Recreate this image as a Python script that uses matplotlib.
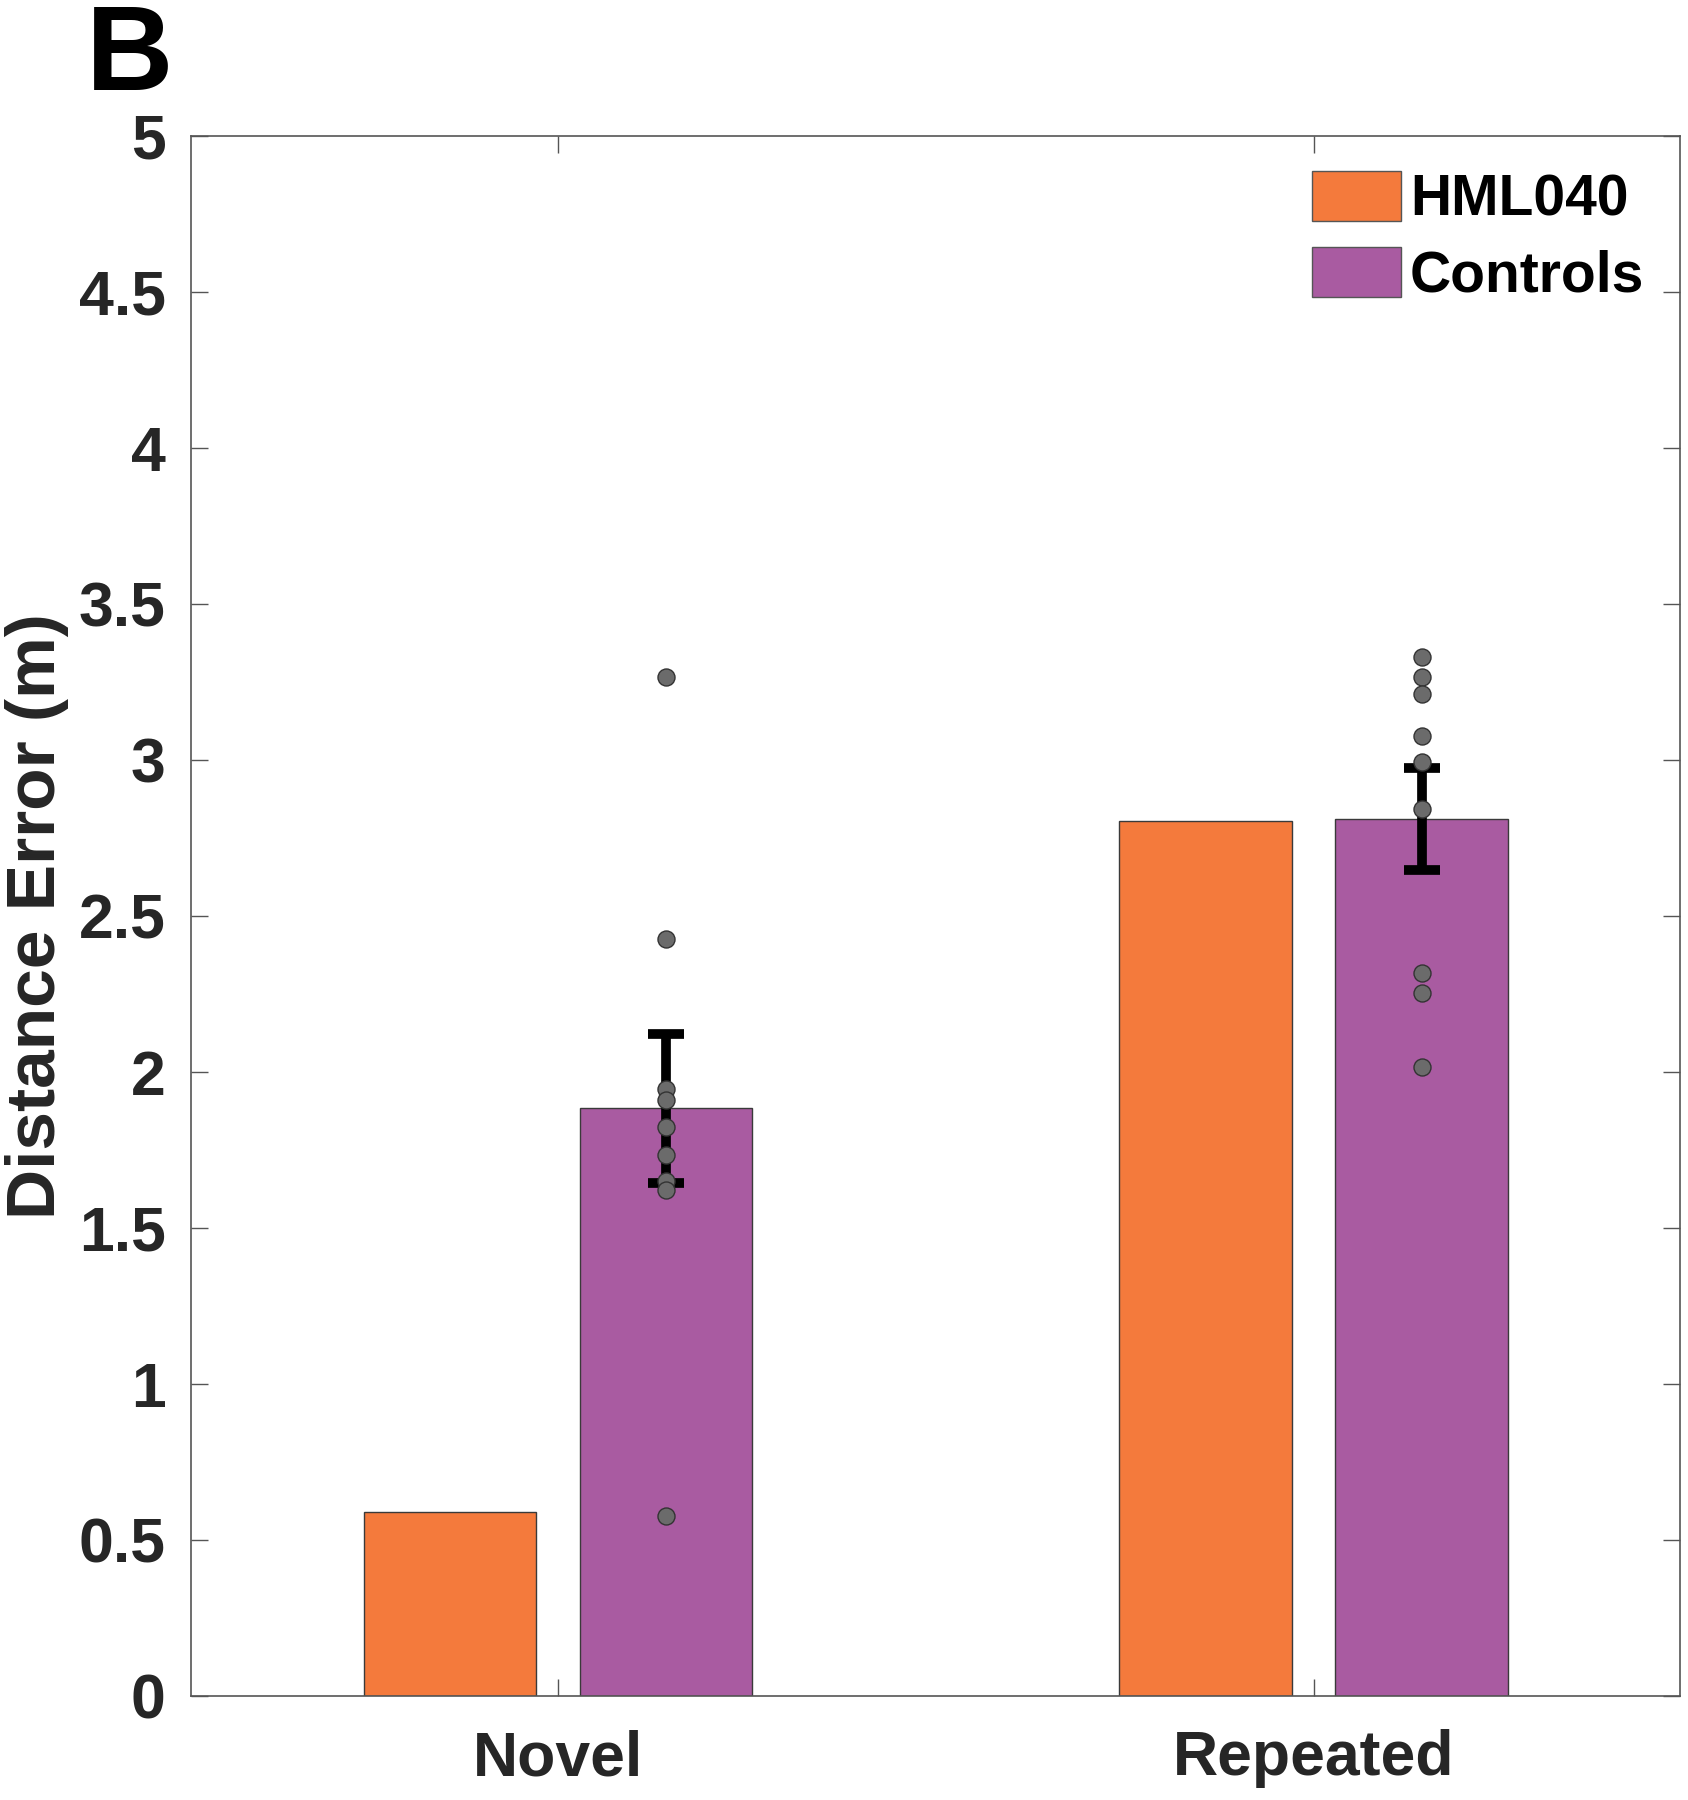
import numpy as np
import matplotlib
matplotlib.use("Agg")
import matplotlib.pyplot as plt

plt.rcParams['font.family'] = ['Liberation Sans', 'DejaVu Sans']
plt.rcParams['font.weight'] = 'bold'

categories = ["Novel", "Repeated"]
hml040 = [0.59, 2.805]
controls_mean = [1.883, 2.811]
controls_sem = [0.238, 0.163]
novel_dots = [3.265, 2.425, 1.944, 1.910, 1.823, 1.733, 1.650, 1.621, 0.577]
repeated_dots = [3.330, 3.266, 3.210, 3.076, 2.994, 2.841, 2.316, 2.254, 2.016]
yticks = [0, 0.5, 1, 1.5, 2, 2.5, 3, 3.5, 4, 4.5, 5]
ytick_labels = ["0", "0.5", "1", "1.5", "2", "2.5", "3", "3.5", "4", "4.5", "5"]

orange = "#F47A3C"
purple = "#A95BA1"

fig = plt.figure(figsize=(16.88, 18), dpi=100)
ax = fig.add_axes([0.1129, 0.0578, 0.8824, 0.8669])

x = np.arange(1, len(categories) + 1)
w = 0.228
off = 0.143
ax.bar(x - off, hml040, w, color=orange, edgecolor="#3a3a3a", linewidth=1.0, label="HML040", zorder=2)
ax.bar(x + off, controls_mean, w, color=purple, edgecolor="#3a3a3a", linewidth=1.0, label="Controls", zorder=2)
ax.errorbar(x + off, controls_mean, yerr=controls_sem, fmt="none", ecolor="black",
            elinewidth=7, capsize=13, capthick=7, zorder=3)

for xi, dots in zip(x + off, [novel_dots, repeated_dots]):
    ax.scatter([xi] * len(dots), dots, s=150, color="#6b6b6b", edgecolor="#333333",
               linewidth=1.0, zorder=4)

ax.set_xlim(0.514, 2.485)
ax.set_ylim(0, 5)
ax.set_xticks(x)
ax.set_xticklabels(categories)
ax.set_yticks(yticks)
ax.set_yticklabels(ytick_labels)
ax.tick_params(axis="both", direction="in", length=12, width=1.0, color="#555555",
               labelsize=45, labelcolor="#262626", top=True, right=True)
ax.tick_params(axis="y", pad=18)
ax.tick_params(axis="x", pad=24)
for s in ax.spines.values():
    s.set_color("#555555")
    s.set_linewidth(1.2)

ax.set_ylabel("Distance Error (m)", fontsize=50, fontweight="bold", color="#262626", labelpad=7)

leg = ax.legend(loc="upper left", bbox_to_anchor=(0.753, 0.977), frameon=False,
                fontsize=41, handlelength=1.56, handleheight=0.95, handletextpad=0.16,
                labelspacing=0.35, borderpad=0, borderaxespad=0)
for t in leg.get_texts():
    t.set_color("black")
for p in leg.get_patches():
    p.set_edgecolor("#555555")

fig.text(0.051, 0.999, "B", fontsize=87, fontweight="bold", va="top", ha="left")

fig.savefig("out.png", dpi=100)
